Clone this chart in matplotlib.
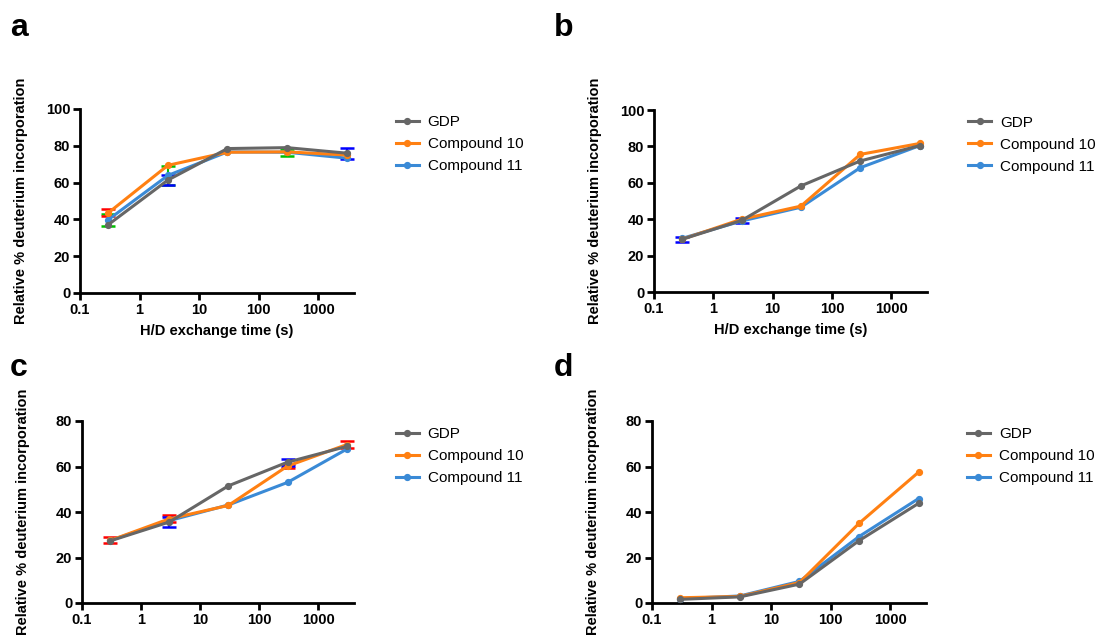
import numpy as np
import matplotlib
matplotlib.use("Agg")
import matplotlib.pyplot as plt
from matplotlib.lines import Line2D

plt.rcParams['font.family'] = ['Liberation Sans', 'DejaVu Sans']

## Data

times = [0.3, 3, 30, 300, 3000]
series_names = ["GDP", "Compound 10", "Compound 11"]
x_tick_values = [0.1, 1, 10, 100, 1000]
x_tick_labels = ["0.1", "1", "10", "100", "1000"]

# panel a
a_gdp = [37.2, 61.4, 78.5, 79.0, 76.0]
a_c10 = [43.6, 69.4, 76.5, 76.7, 75.0]
a_c11 = [39.9, 63.9, 76.7, 76.5, 73.3]
a_gdp_err = [0, 2.5, 0, 0, 3.0]
a_c10_err = [2.0, 0, 0, 0, 0]
a_c11_err = [3.3, 5.0, 0, 2.0, 0]

# panel b
b_gdp = [29.0, 39.3, 58.3, 72.0, 80.4]
b_c10 = [29.0, 40.0, 47.2, 75.6, 81.6]
b_c11 = [29.5, 39.0, 46.6, 68.3, 80.4]
b_gdp_err = [1.3, 1.5, 0, 0, 0]
b_c10_err = [0, 0, 0, 0, 0]
b_c11_err = [0, 0, 0, 0, 0]

# panel c
c_gdp = [27.3, 35.6, 51.5, 61.9, 68.8]
c_c10 = [27.5, 37.0, 42.9, 60.2, 69.6]
c_c11 = [27.5, 36.2, 43.1, 53.0, 67.6]
c_gdp_err = [0, 2.0, 0, 1.5, 0]
c_c10_err = [1.3, 1.5, 0, 1.0, 1.5]
c_c11_err = [0, 0, 0, 0, 0]

# panel d (error bars hidden behind the markers)
d_gdp = [1.6, 2.7, 8.3, 27.4, 43.8]
d_c10 = [2.3, 2.9, 9.0, 35.0, 57.5]
d_c11 = [1.9, 3.1, 9.5, 29.2, 45.9]
d_gdp_err = [0, 0, 0, 0, 0]
d_c10_err = [0, 0, 0, 0, 0]
d_c11_err = [0, 0, 0, 0, 0]

## Styling

line_colors = {"GDP": "#666666", "Compound 10": "#ff8012", "Compound 11": "#3a8ad6"}
err_colors = {"GDP": "#0000ff", "Compound 10": "#ff0000", "Compound 11": "#00c000"}

W, H = 1098, 637

def frac(box):
    # box in pixels: left, top, right, bottom
    l, t, r, b = box
    return [l / W, 1 - b / H, (r - l) / W, (b - t) / H]


def draw_panel(fig, box, letter, letter_xy, ymax, vals, errs, xlabel, leg_xy):
    ax = fig.add_axes(frac(box))
    ax.set_xscale('log')

    order = ["Compound 11", "Compound 10", "GDP"]
    zs = {"Compound 11": 3, "Compound 10": 4, "GDP": 5}

    # only the error bars that stick out past the markers
    for name in order:
        e = np.array(errs[name], dtype=float)
        keep = e > 0
        if keep.any():
            ax.errorbar(np.array(times)[keep], np.array(vals[name])[keep], yerr=e[keep], fmt='none',
                        ecolor=err_colors[name], elinewidth=1.5, capsize=5, capthick=1.8,
                        zorder=2, clip_on=False)
    for name in order:
        ax.plot(times, vals[name], color=line_colors[name], lw=2.2, marker='o', ms=4.2,
                zorder=zs[name], clip_on=False)

    ax.set_xlim(0.1, 4000)
    ax.set_ylim(0, ymax)
    ax.set_xticks(x_tick_values)
    ax.set_xticklabels(x_tick_labels)
    ax.set_yticks(list(range(0, ymax + 1, 20)))
    ax.minorticks_off()

    for s in ['top', 'right']:
        ax.spines[s].set_visible(False)
    for s in ['left', 'bottom']:
        ax.spines[s].set_linewidth(2.0)
    ax.tick_params(direction='out', length=5, width=2.0, pad=2, labelsize=10.5)
    for lab in ax.get_xticklabels() + ax.get_yticklabels():
        lab.set_fontweight('bold')

    ax.set_ylabel("Relative % deuterium incorporation", fontsize=10.5, fontweight='bold')
    ax.yaxis.set_label_coords(-0.19, 0.5)
    if xlabel:
        ax.set_xlabel("H/D exchange time (s)", fontsize=10.5, fontweight='bold', labelpad=5)

    handles = [Line2D([], [], color=line_colors[n], lw=2.2, marker='o', ms=4.2) for n in series_names]
    ax.legend(handles, series_names, loc='upper left', bbox_to_anchor=leg_xy, frameon=False,
              fontsize=11, borderaxespad=0, borderpad=0, handlelength=1.5,
              handletextpad=0.6, labelspacing=0.52)

    fig.text(letter_xy[0] / W, 1 - letter_xy[1] / H, letter, fontsize=23, fontweight='bold',
             va='baseline', ha='left')
    return ax


fig = plt.figure(figsize=(W / 100, H / 100), dpi=100)

draw_panel(fig, (80, 109, 354, 293), "a", (10, 36), 100,
           {"GDP": a_gdp, "Compound 10": a_c10, "Compound 11": a_c11},
           {"GDP": a_gdp_err, "Compound 10": a_c10_err, "Compound 11": a_c11_err},
           True, (1.152, 0.965))
draw_panel(fig, (654, 110, 927, 292), "b", (554, 36), 100,
           {"GDP": b_gdp, "Compound 10": b_c10, "Compound 11": b_c11},
           {"GDP": b_gdp_err, "Compound 10": b_c10_err, "Compound 11": b_c11_err},
           True, (1.151, 0.969))
draw_panel(fig, (82, 421, 354, 603), "c", (10, 376), 80,
           {"GDP": c_gdp, "Compound 10": c_c10, "Compound 11": c_c11},
           {"GDP": c_gdp_err, "Compound 10": c_c10_err, "Compound 11": c_c11_err},
           False, (1.153, 0.967))
draw_panel(fig, (652, 421, 926, 603), "d", (554, 376), 80,
           {"GDP": d_gdp, "Compound 10": d_c10, "Compound 11": d_c11},
           {"GDP": d_gdp_err, "Compound 10": d_c10_err, "Compound 11": d_c11_err},
           False, (1.149, 0.967))

fig.savefig("out.png", dpi=100)
